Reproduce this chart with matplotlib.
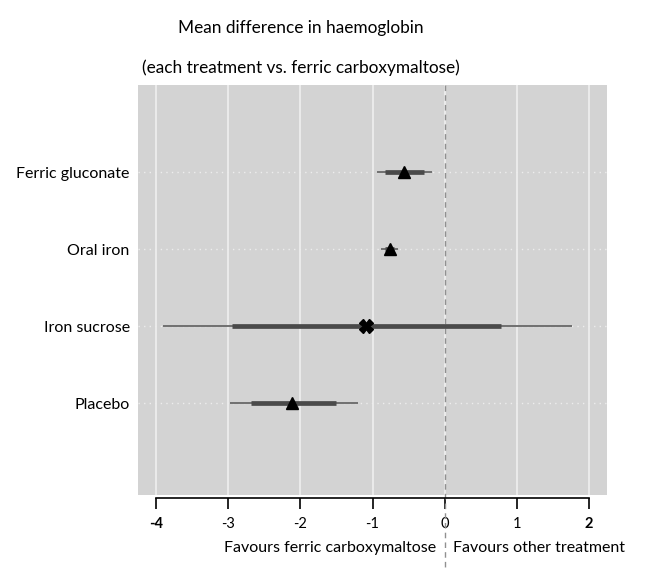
import matplotlib.pyplot as plt

plt.rcParams['font.family'] = ['Lato', 'DejaVu Sans']

treatments = ["Ferric gluconate", "Oral iron", "Iron sucrose", "Placebo"]
mean_diff = [-0.57, -0.76, -1.09, -2.11]
ci_low = [-0.94, -0.88, -3.90, -2.98]
ci_high = [-0.18, -0.64, 1.77, -1.20]
inner_low = [-0.82, -0.82, -2.95, -2.68]
inner_high = [-0.29, -0.70, 0.78, -1.50]
markers = ["^", "^", "X", "^"]
xticks = [-4, -3, -2, -1, 0, 1, 2]

fig = plt.figure(figsize=(6.46, 5.70), dpi=100)
ax = fig.add_axes([138 / 646, 1 - 495 / 570, 469 / 646, 410 / 570])
ax.set_facecolor("#d3d3d3")

ypos = [4, 3, 2, 1]

for x in xticks:
    ax.axvline(x, color="#ededed", lw=1.3, zorder=1)
for y in ypos:
    ax.axhline(y, color="#ededed", lw=1.0, ls=(0, (1, 3)), zorder=1)

# reference line at zero, continuing below the panel
ax.plot([0, 0], [1.0, -0.2], transform=ax.get_xaxis_transform(),
        color="#909090", lw=1.0, ls=(0, (4, 3)), clip_on=False, zorder=2)

for y, m, lo, hi, ilo, ihi, mk in zip(ypos, mean_diff, ci_low, ci_high,
                                      inner_low, inner_high, markers):
    ax.plot([lo, hi], [y, y], color="#707070", lw=1.4, zorder=3,
            solid_capstyle="butt")
    ax.plot([ilo, ihi], [y, y], color="#4a4a4a", lw=3.4, zorder=4,
            solid_capstyle="butt")
    if mk == "X":
        ax.plot(m, y, marker="X", color="black", ms=10, zorder=5)
    else:
        ax.plot(m, y, marker="^", color="black", ms=8, zorder=5)

ax.set_xlim(-4.25, 2.25)
ax.set_ylim(-0.19, 5.13)

for s in ["top", "right", "left"]:
    ax.spines[s].set_visible(False)
ax.spines["bottom"].set_bounds(-4, 2)
ax.spines["bottom"].set_position(("outward", 2))
ax.spines["bottom"].set_linewidth(1.2)

ax.set_xticks(xticks)
ax.set_xticklabels([str(t) for t in xticks], fontsize=10.5)
for lab in ax.get_xticklabels():
    if lab.get_text() in ("-4", "2"):
        lab.set_fontweight("bold")
ax.tick_params(axis="x", length=8, width=1.2, pad=6)

ax.set_yticks(ypos)
ax.set_yticklabels(treatments, fontsize=11.5)
ax.tick_params(axis="y", length=0, pad=6)

fig.text(301 / 646, 1 - 28 / 570, "Mean difference in haemoglobin",
         ha="center", va="center", fontsize=12.4)
fig.text(301 / 646, 1 - 68 / 570, "(each treatment vs. ferric carboxymaltose)",
         ha="center", va="center", fontsize=12.4)

fig.text(436 / 646, 1 - 548 / 570, "Favours ferric carboxymaltose",
         ha="right", va="center", fontsize=11.5)
fig.text(453 / 646, 1 - 548 / 570, "Favours other treatment",
         ha="left", va="center", fontsize=11.5)

fig.savefig("out.png", dpi=100)
